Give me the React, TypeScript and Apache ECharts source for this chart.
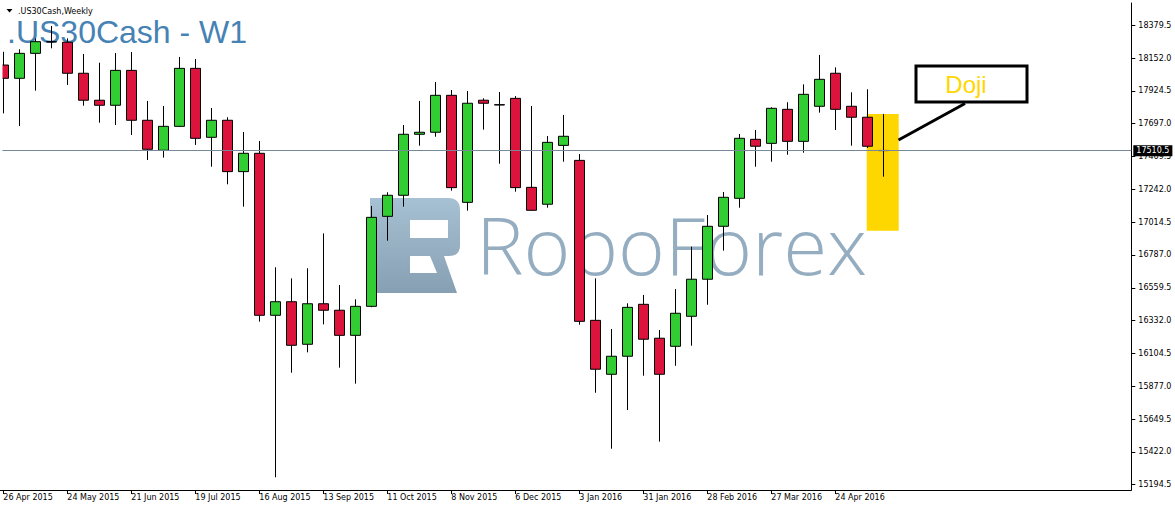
import React, { useEffect, useRef } from 'react';
import * as echarts from 'echarts';

// Weekly candles, .US30Cash W1
const weeks = [
  '26 Apr 2015', '3 May 2015', '10 May 2015', '17 May 2015', '24 May 2015', '31 May 2015', '7 Jun 2015', '14 Jun 2015',
  '21 Jun 2015', '28 Jun 2015', '5 Jul 2015', '12 Jul 2015', '19 Jul 2015', '26 Jul 2015', '2 Aug 2015', '9 Aug 2015',
  '16 Aug 2015', '23 Aug 2015', '30 Aug 2015', '6 Sep 2015', '13 Sep 2015', '20 Sep 2015', '27 Sep 2015', '4 Oct 2015',
  '11 Oct 2015', '18 Oct 2015', '25 Oct 2015', '1 Nov 2015', '8 Nov 2015', '15 Nov 2015', '22 Nov 2015', '29 Nov 2015',
  '6 Dec 2015', '13 Dec 2015', '20 Dec 2015', '27 Dec 2015', '3 Jan 2016', '10 Jan 2016', '17 Jan 2016', '24 Jan 2016',
  '31 Jan 2016', '7 Feb 2016', '14 Feb 2016', '21 Feb 2016', '28 Feb 2016', '6 Mar 2016', '13 Mar 2016', '20 Mar 2016',
  '27 Mar 2016', '3 Apr 2016', '10 Apr 2016', '17 Apr 2016', '24 Apr 2016', '1 May 2016', '8 May 2016', '15 May 2016',
];

const opens = [
  18104, 18012, 18185, 18266, 18262, 18047, 17860, 17825, 18067, 17721, 17513, 17679, 18081, 17603, 17721, 17365,
  17492, 16369, 16463, 16168, 16449, 16404, 16230, 16431, 17055, 17201, 17624, 17638, 17894, 17152, 17860, 17829,
  17873, 17256, 17139, 17547, 17443, 16334, 15960, 16085, 16445, 16210, 16154, 16362, 16619, 16986, 17180, 17589,
  17561, 17797, 17575, 17818, 18047, 17818, 17742, 17512,
];
const closes = [
  18012, 18185, 18266, 18264, 18047, 17860, 17825, 18067, 17721, 17520, 17679, 18081, 17596, 17721, 17365, 17492,
  16369, 16463, 16161, 16449, 16404, 16230, 16431, 17048, 17201, 17624, 17638, 17894, 17254, 17839, 17839, 17827,
  17254, 17097, 17568, 17610, 16327, 15995, 16085, 16424, 16203, 15960, 16383, 16619, 16986, 17187, 17596, 17541,
  17804, 17575, 17901, 18005, 17797, 17742, 17541, 17510.5,
];
const lows = [
  17769, 17681, 17926, 18220, 17966, 17822, 17704, 17688, 17619, 17446, 17462, 17674, 17550, 17399, 17277, 17122,
  16325, 15246, 15971, 16112, 16306, 16006, 15895, 16425, 16886, 17122, 17545, 17607, 17233, 17094, 17656, 17420,
  17226, 17094, 17115, 17434, 16304, 15832, 15444, 15712, 15950, 15493, 16019, 16158, 16442, 16817, 17115, 17399,
  17434, 17482, 17496, 17774, 17654, 17545, 17529, 17330,
];
const highs = [
  18196, 18213, 18289, 18375, 18289, 18181, 18120, 18187, 18194, 17855, 17820, 18160, 18146, 17806, 17742, 17640,
  17577, 16702, 16625, 16695, 16937, 16579, 16480, 17127, 17222, 17688, 17855, 17986, 17931, 17924, 17873, 17917,
  17889, 17820, 17612, 17758, 17487, 16625, 16274, 16452, 16510, 16267, 16551, 16845, 17064, 17224, 17626, 17654,
  17811, 17846, 17970, 18174, 18088, 17915, 17936, 17765,
];

const yTicks = [
  15194.5, 15422.0, 15649.5, 15877.0, 16104.5, 16332.0, 16559.5, 16787.0,
  17014.5, 17242.0, 17469.5, 17697.0, 17924.5, 18152.0, 18379.5,
];
const currentPrice = 17510.5;
const TOTAL_SLOTS = 71;

const LOGO_D =
  'M370,198 L448,198 Q460,198 460,210 L460,245 Q460,256 449,256 L444,256 L457,293 L370,293 Z ' +
  'M410,220 L410,238 L448,238 L448,220 Z ' +
  'M410,256 L410,273 L437,273 L430,256 Z';

let logoRegistered = false;
function ensureLogo() {
  if (logoRegistered) return;
  echarts.graphic.registerShape('roboLogo', echarts.graphic.extendPath(LOGO_D, {}) as any);
  logoRegistered = true;
}

export default function App() {
  const ref = useRef<HTMLDivElement>(null);

  useEffect(() => {
    if (!ref.current) return;
    ensureLogo();
    const chart = echarts.init(ref.current, null, { renderer: 'svg' });

    const categories = weeks.concat(
      Array.from({ length: TOTAL_SLOTS - weeks.length }, (_, i) => ' ' + (weeks.length + i))
    );
    const candleData = opens.map((o, i) => [o, closes[i], lows[i], highs[i]]);
    const showIdx = (index: number) => index % 4 === 0 && index < weeks.length;

    const font = 'DejaVu Sans';

    chart.setOption({
      animation: false,
      backgroundColor: '#ffffff',
      grid: {
        left: -4.7,
        top: 3,
        width: 1136,
        height: 487,
        containLabel: false,
        outerBoundsMode: 'none',
      },
      xAxis: {
        type: 'category',
        data: categories,
        boundaryGap: true,
        axisLine: { show: true, lineStyle: { color: '#000', width: 1 } },
        axisTick: {
          show: true,
          alignWithLabel: true,
          length: 4,
          interval: (index: number) => showIdx(index),
          lineStyle: { color: '#000', width: 1 },
        },
        axisLabel: {
          show: true,
          interval: (index: number) => showIdx(index),
          align: 'left',
          margin: 3,
          color: '#000',
          fontSize: 8,
          fontFamily: font,
        },
        splitLine: { show: false },
      },
      yAxis: {
        type: 'value',
        position: 'right',
        min: 15157.7,
        max: 18534.1,
        scale: true,
        axisLine: { show: true, lineStyle: { color: '#000', width: 1 } },
        axisTick: {
          show: true,
          inside: false,
          length: 4,
          customValues: yTicks,
          lineStyle: { color: '#000', width: 1 },
        },
        axisLabel: {
          show: true,
          customValues: yTicks,
          formatter: (v: number) => v.toFixed(1),
          margin: 7,
          color: '#000',
          fontSize: 8,
          fontFamily: font,
        },
        splitLine: { show: false },
      },
      series: [
        {
          type: 'candlestick',
          data: candleData,
          barWidth: 10,
          z: 2,
          itemStyle: {
            color: '#32CD32',
            color0: '#DC143C',
            borderColor: '#000000',
            borderColor0: '#000000',
            borderWidth: 1,
          },
          emphasis: { disabled: true },
          markLine: {
            silent: true,
            symbol: ['none', 'none'],
            animation: false,
            data: [{ yAxis: currentPrice }],
            lineStyle: { color: '#778899', width: 1, type: 'solid' },
            label: {
              show: true,
              position: 'end',
              distance: 2,
              formatter: currentPrice.toFixed(1),
              backgroundColor: '#000',
              color: '#fff',
              padding: [2, 3, 1, 3],
              fontSize: 8,
              fontFamily: font,
            },
            emphasis: { disabled: true },
          },
        },
      ],
      graphic: [
        {
          type: 'roboLogo',
          x: 0,
          y: 0,
          z: 0,
          silent: true,
          style: {
            fill: new echarts.graphic.LinearGradient(0, 0, 0, 1, [
              { offset: 0, color: '#a6c1d3' },
              { offset: 1, color: '#879fb2' },
            ]),
          },
        },
        {
          type: 'text',
          x: 476,
          y: 243,
          z: 0,
          silent: true,
          style: {
            text: 'RoboForex',
            fontSize: 80,
            fontFamily: 'Open Sans',
            fontWeight: 300,
            align: 'left',
            verticalAlign: 'middle',
            fill: '#95adc0',
          },
        },
        {
          type: 'text',
          x: 7,
          y: 32.3,
          z: 0,
          silent: true,
          style: {
            text: '.US30Cash - W1',
            fontSize: 32,
            fontFamily: 'Liberation Sans',
            align: 'left',
            verticalAlign: 'middle',
            fill: '#4682B4',
          },
        },
        {
          type: 'polygon',
          z: 5,
          silent: true,
          shape: { points: [[6.5, 9], [12.5, 9], [9.5, 12.5]] },
          style: { fill: '#000' },
        },
        {
          type: 'text',
          x: 18,
          y: 11.7,
          z: 5,
          silent: true,
          style: {
            text: '.US30Cash,Weekly',
            fontSize: 8,
            fontFamily: font,
            align: 'left',
            verticalAlign: 'middle',
            fill: '#000',
          },
        },
        {
          type: 'rect',
          z: 1,
          silent: true,
          shape: { x: 866.7, y: 114, width: 32, height: 116.7 },
          style: { fill: '#FFD700' },
        },
        {
          type: 'line',
          z: 10,
          silent: true,
          shape: { x1: 965, y1: 103.5, x2: 898.5, y2: 140 },
          style: { stroke: '#000', lineWidth: 3 },
        },
        {
          type: 'rect',
          z: 10,
          silent: true,
          shape: { x: 916, y: 66, width: 111, height: 36 },
          style: { fill: '#fff', stroke: '#000', lineWidth: 3 },
        },
        {
          type: 'text',
          x: 966,
          y: 84.4,
          z: 11,
          silent: true,
          style: {
            text: 'Doji',
            fontSize: 24,
            fontFamily: 'Liberation Sans',
            align: 'center',
            verticalAlign: 'middle',
            fill: '#FFD700',
          },
        },
        {
          type: 'rect',
          z: 100,
          silent: true,
          shape: { x: 0, y: 0, width: 2.5, height: 489 },
          style: { fill: '#fff' },
        },
      ],
    });

    return () => {
      chart.dispose();
    };
  }, []);

  return (
    <div
      ref={ref}
      style={{ position: 'absolute', left: 0, top: 0, width: 1175, height: 510 }}
    />
  );
}
